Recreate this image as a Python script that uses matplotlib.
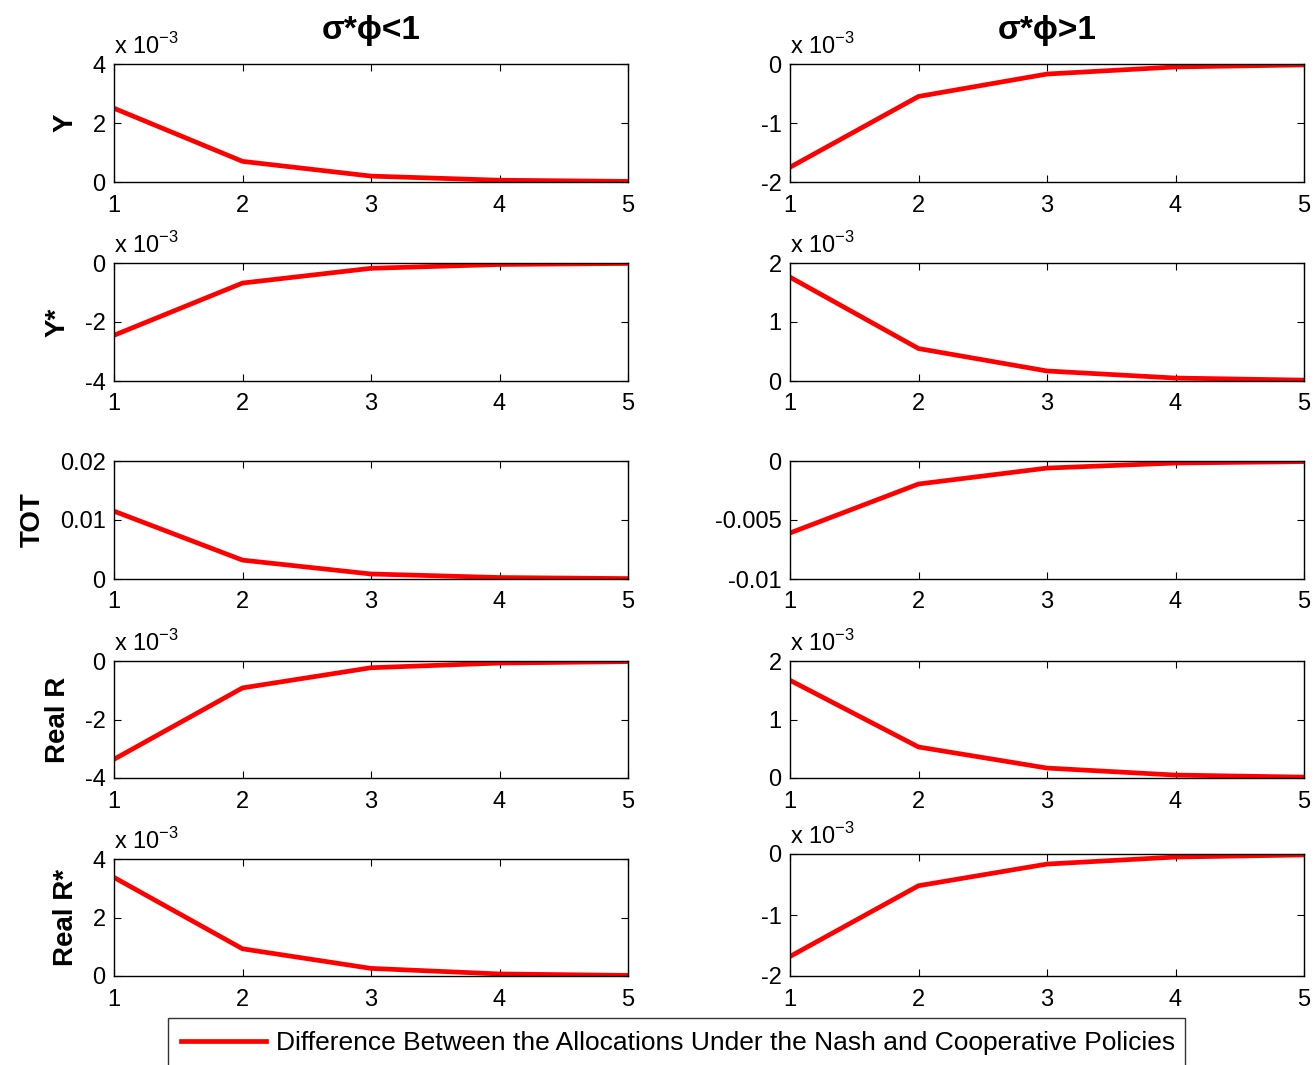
import matplotlib
matplotlib.use("Agg")
import matplotlib.pyplot as plt
from matplotlib.ticker import FuncFormatter, FixedLocator

plt.rcParams['font.family'] = ['Liberation Sans', 'DejaVu Sans']

horizon = [1, 2, 3, 4, 5]
col_titles = ["σ*ϕ<1", "σ*ϕ>1"]
row_labels = ["Y", "Y*", "TOT", "Real R", "Real R*"]

# sigma*phi < 1
y_lt = [2.50e-3, 0.70e-3, 0.20e-3, 0.06e-3, 0.02e-3]
ystar_lt = [-2.45e-3, -0.68e-3, -0.18e-3, -0.05e-3, -0.015e-3]
tot_lt = [0.0115, 0.0032, 0.00085, 0.00025, 0.00007]
realr_lt = [-3.36e-3, -0.92e-3, -0.23e-3, -0.07e-3, -0.02e-3]
realrs_lt = [3.37e-3, 0.93e-3, 0.26e-3, 0.07e-3, 0.02e-3]

# sigma*phi > 1
y_gt = [-1.75e-3, -0.55e-3, -0.17e-3, -0.05e-3, -0.015e-3]
ystar_gt = [1.76e-3, 0.55e-3, 0.17e-3, 0.05e-3, 0.015e-3]
tot_gt = [-0.0061, -0.00195, -0.0006, -0.00017, -0.00005]
realr_gt = [1.67e-3, 0.53e-3, 0.17e-3, 0.05e-3, 0.015e-3]
realrs_gt = [-1.68e-3, -0.52e-3, -0.165e-3, -0.05e-3, -0.015e-3]

series_lt = [y_lt, ystar_lt, tot_lt, realr_lt, realrs_lt]
series_gt = [y_gt, ystar_gt, tot_gt, realr_gt, realrs_gt]

ylims_lt = [(0, 4e-3), (-4e-3, 0), (0, 0.02), (-4e-3, 0), (0, 4e-3)]
ylims_gt = [(-2e-3, 0), (0, 2e-3), (-0.01, 0), (0, 2e-3), (-2e-3, 0)]
scaled = [True, True, False, True, True]

legend_label = "Difference Between the Allocations Under the Nash and Cooperative Policies"

W, H = 1316, 1065
fig = plt.figure(figsize=(W / 100, H / 100), dpi=100)

# pixel boxes (top, bottom)
rows_left = [(64, 182), (263, 381), (461, 579), (661, 778), (859, 976)]
rows_right = [(64, 182), (263, 381), (461, 579), (661, 778), (854, 976)]
cols = [(114, 628), (790, 1304)]

fs = 17
line_handle = None
for c in range(2):
    x0, x1 = cols[c]
    rows = rows_left if c == 0 else rows_right
    data = series_lt if c == 0 else series_gt
    lims = ylims_lt if c == 0 else ylims_gt
    for r in range(5):
        t, b = rows[r]
        ax = fig.add_axes([x0 / W, 1 - b / H, (x1 - x0) / W, (b - t) / H])
        ln, = ax.plot(horizon, data[r], color='#ff0000', lw=3.4, solid_joinstyle='round')
        line_handle = ln
        lo, hi = lims[r]
        ax.set_xlim(1, 5)
        ax.set_ylim(lo, hi)
        ax.xaxis.set_major_locator(FixedLocator(horizon))
        ax.yaxis.set_major_locator(FixedLocator([lo, (lo + hi) / 2, hi]))
        if scaled[r]:
            ax.yaxis.set_major_formatter(FuncFormatter(lambda v, p: f"{round(v * 1e3, 6):g}"))
            ax.text(0, 1.04, r"x 10$^{\mathregular{-3}}$", transform=ax.transAxes,
                    ha='left', va='bottom', fontsize=fs)
        else:
            ax.yaxis.set_major_formatter(FuncFormatter(lambda v, p: f"{round(v, 6):g}"))
        ax.xaxis.set_major_formatter(FuncFormatter(lambda v, p: f"{int(v)}"))
        ax.tick_params(direction='in', length=5, width=0.8, top=True, right=True,
                       labelsize=fs)
        ax.tick_params(axis='x', pad=9)
        ax.tick_params(axis='y', pad=6)
        for s in ax.spines.values():
            s.set_linewidth(1.0)
        if c == 0:
            ax.set_ylabel(row_labels[r], fontsize=20, fontweight='bold', labelpad=10)
    fig.text(((x0 + x1) / 2) / W, 1 - 30 / H, col_titles[c], ha='center', va='center',
             fontsize=24, fontweight='bold')

leg = fig.legend([line_handle], [legend_label],
                 loc='upper left',
                 bbox_to_anchor=(168 / W, 1 - 1019 / H, (1185 - 168) / W, 0.001),
                 mode='expand', fontsize=19, frameon=True, fancybox=False,
                 handlelength=3.2, handletextpad=0.4, borderpad=0.5,
                 borderaxespad=0)
leg.get_frame().set_edgecolor('black')
leg.get_frame().set_linewidth(1.0)

fig.savefig("out.png", dpi=100)
